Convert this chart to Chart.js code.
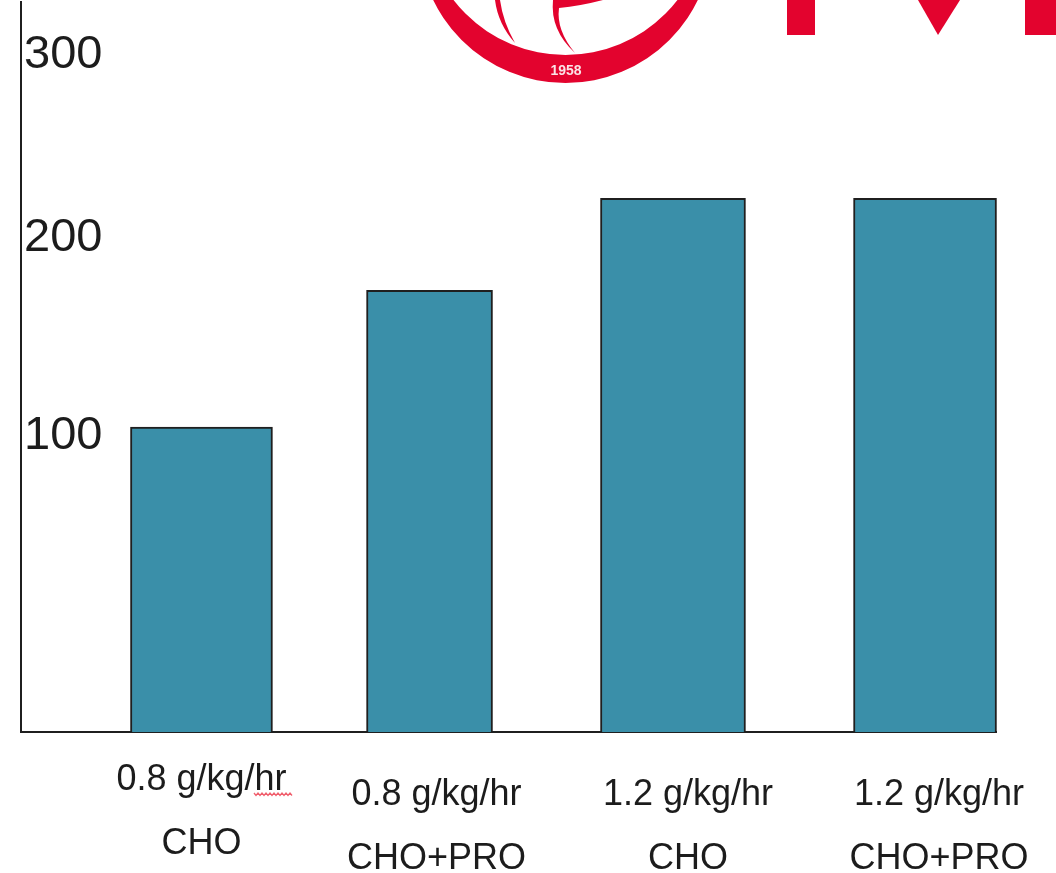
<!DOCTYPE html>
<html>
<head>
<meta charset="utf-8">
<style>
  html, body { margin: 0; padding: 0; background: #fff; }
  canvas { display: block; }
</style>
<script src="https://cdn.jsdelivr.net/npm/chart.js@4/dist/chart.umd.min.js"></script>
</head>
<body>
<canvas id="myChart" width="1056" height="873"></canvas>
<script>
var doses = ['0.8 g/kg/hr', '0.8 g/kg/hr', '1.2 g/kg/hr', '1.2 g/kg/hr'];
var mixes = ['CHO', 'CHO+PRO', 'CHO', 'CHO+PRO'];
var values = [103, 172, 220, 220];
var yTicks = [100, 200, 300];

var TEXT = '#1c1c1c';
var LINE = '#1f1f1f';
var TEAL = '#3a8fa9';
var RED = '#e3032e';

// the slide was hand drawn: bars are not evenly spaced, tick labels not evenly stepped
var barCentres = [0.1851, 0.419, 0.6687, 0.9272];
var barWidths = [142, 126, 145, 143];
var labelShift = [{x: 0, dose: 58, mix: 122}, {x: 7, dose: 73, mix: 137}, {x: 15, dose: 73, mix: 137}, {x: 14, dose: 73, mix: 137}];
var yStops = [[0, 0], [100, 0.4096], [200, 0.6808], [300, 0.9315], [327, 1]];

class SlotScale extends Chart.CategoryScale {
    getPixelForValue(value) {
        return this.left + this.width * barCentres[value];
    }
}
SlotScale.id = 'slot';
SlotScale.defaults = Chart.CategoryScale.defaults;

class StopScale extends Chart.LinearScale {
    getPixelForValue(value) {
        for (var i = 1; i < yStops.length; i++) {
            if (value <= yStops[i][0] || i === yStops.length - 1) {
                var a = yStops[i - 1], b = yStops[i];
                var f = a[1] + (value - a[0]) / (b[0] - a[0]) * (b[1] - a[1]);
                return this.bottom - this.height * f;
            }
        }
    }
}
StopScale.id = 'stops';
StopScale.defaults = Chart.LinearScale.defaults;

Chart.register(SlotScale, StopScale);

var logoPlugin = {
    id: 'logo',
    beforeDraw: function (chart) {
        var c = chart.ctx;
        c.save();
        c.fillStyle = '#fff';
        c.fillRect(0, 0, chart.width, chart.height);

        // ring, thicker at the bottom
        c.fillStyle = RED;
        c.beginPath();
        c.arc(565.5, -64, 147, 0, Math.PI * 2);
        c.arc(565.5, -86.5, 141.5, 0, Math.PI * 2, true);
        c.fill('evenodd');

        // inner strokes
        c.beginPath();
        c.moveTo(495, 0);
        c.quadraticCurveTo(498, 24, 515, 43);
        c.quadraticCurveTo(503, 22, 500, 0);
        c.fill();
        c.beginPath();
        c.moveTo(553, 0);
        c.quadraticCurveTo(550, 30, 575, 53);
        c.quadraticCurveTo(556, 30, 559, 8);
        c.quadraticCurveTo(580, 6, 603, 0);
        c.lineTo(560, 0);
        c.fill();

        c.fillStyle = '#fbe3e6';
        c.font = 'bold 14px "Liberation Sans"';
        c.textAlign = 'center';
        c.textBaseline = 'middle';
        c.fillText('1958', 566, 71);

        // bottom of the cropped wordmark
        c.fillStyle = RED;
        c.fillRect(787, 0, 28, 35);
        c.beginPath();
        c.moveTo(918, 0);
        c.lineTo(960, 0);
        c.lineTo(938, 35);
        c.fill();
        c.fillRect(1025, 0, 31, 35);
        c.restore();
    }
};

var labelPlugin = {
    id: 'twoLineLabels',
    afterDraw: function (chart) {
        var c = chart.ctx;
        var x = chart.scales.x;
        c.save();
        c.fillStyle = TEXT;
        c.font = '36px "Liberation Sans"';
        c.textAlign = 'center';
        c.textBaseline = 'alphabetic';
        for (var i = 0; i < doses.length; i++) {
            var px = x.getPixelForValue(i) + labelShift[i].x;
            c.fillText(doses[i], px, x.bottom + labelShift[i].dose);
            c.fillText(mixes[i], px, x.bottom + labelShift[i].mix);
        }
        // spell check squiggle under the first "hr"
        c.strokeStyle = '#f0606e';
        c.lineWidth = 1.3;
        c.beginPath();
        for (var sx = 254; sx <= 292; sx += 2) {
            var sy = 793 + ((sx - 254) % 4 === 0 ? 0 : 2.5);
            if (sx === 254) c.moveTo(sx, sy); else c.lineTo(sx, sy);
        }
        c.stroke();
        c.restore();
    }
};

// one dataset per bar, each bar has its own width
var datasets = [];
for (var i = 0; i < values.length; i++) {
    var row = values.map(function () { return null; });
    row[i] = values[i];
    datasets.push({
        data: row,
        backgroundColor: TEAL,
        borderColor: LINE,
        borderWidth: 2,
        barThickness: barWidths[i],
        clip: false
    });
}

new Chart(document.getElementById('myChart'), {
    type: 'bar',
    data: {labels: mixes, datasets: datasets},
    plugins: [logoPlugin, labelPlugin],
    options: {
        responsive: false,
        animation: false,
        layout: {padding: {left: 21, right: 60, top: 2, bottom: 141}},
        plugins: {legend: {display: false}, tooltip: {enabled: false}},
        datasets: {bar: {grouped: false}},
        scales: {
            x: {
                type: 'slot',
                grid: {display: false, drawTicks: false},
                border: {display: true, color: LINE, width: 2},
                ticks: {display: false}
            },
            y: {
                type: 'stops',
                min: 0,
                max: 327,
                afterBuildTicks: function (scale) {
                    scale.ticks = yTicks.map(function (v) { return {value: v}; });
                },
                afterFit: function (scale) {
                    scale.width = 0;
                    scale.paddingTop = 0;
                    scale.paddingBottom = 0;
                },
                grid: {display: false, drawTicks: false},
                border: {display: true, color: LINE, width: 2},
                ticks: {
                    mirror: true,
                    padding: 3,
                    labelOffset: 3,
                    color: TEXT,
                    font: {family: '"Liberation Sans"', size: 47}
                }
            }
        }
    }
});
</script>
</body>
</html>
